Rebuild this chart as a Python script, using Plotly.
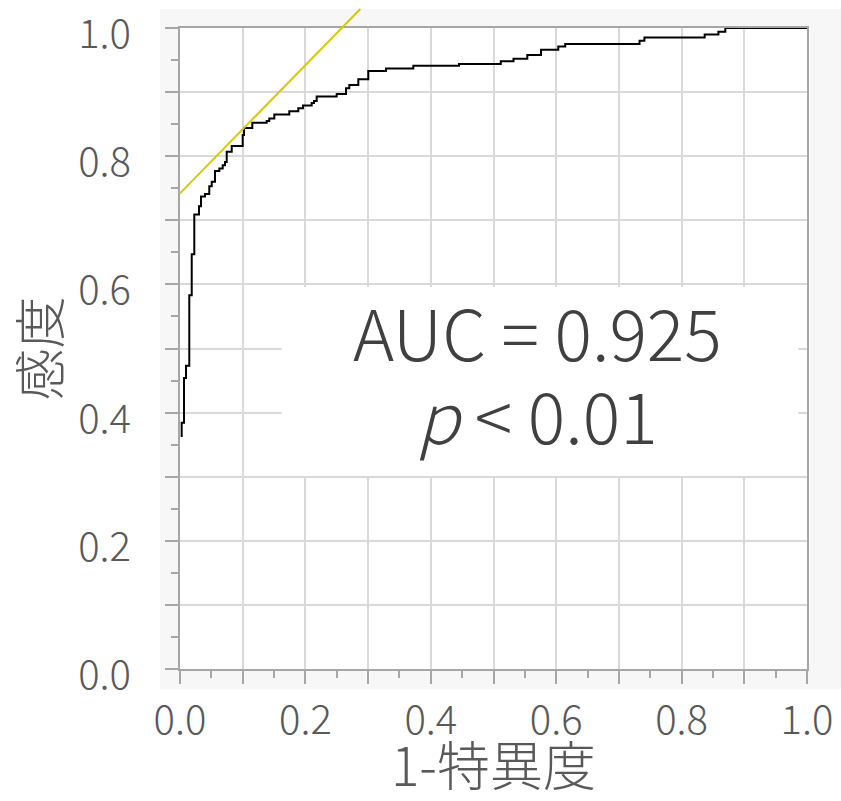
import plotly.graph_objects as go

# ROC curve: false positive rate (1-specificity) and true positive rate (sensitivity)
fpr = [0.0027, 0.0027, 0.0064, 0.0096, 0.0148, 0.0187, 0.0228, 0.0303, 0.0335,
       0.0399, 0.0467, 0.0506, 0.0558, 0.0627, 0.0681, 0.0718, 0.0745, 0.0825,
       0.1000, 0.1021, 0.1153, 0.1383, 0.1424, 0.1504, 0.1743, 0.1887, 0.1962,
       0.2100, 0.2137, 0.2180, 0.2499, 0.2648, 0.2700, 0.2844, 0.3003, 0.3285,
       0.3721, 0.4450, 0.5116, 0.5319, 0.5539, 0.5758, 0.6033, 0.6144, 0.7329,
       0.7407, 0.8368, 0.8587, 0.8697, 1.0000]
tpr = [0.362, 0.384, 0.454, 0.473, 0.583, 0.647, 0.709, 0.722, 0.737,
       0.741, 0.753, 0.760, 0.777, 0.781, 0.786, 0.791, 0.807, 0.816,
       0.833, 0.844, 0.852, 0.855, 0.859, 0.865, 0.870, 0.875, 0.879,
       0.883, 0.886, 0.893, 0.897, 0.906, 0.911, 0.920, 0.933, 0.937,
       0.941, 0.944, 0.948, 0.952, 0.958, 0.966, 0.971, 0.975, 0.980,
       0.985, 0.990, 0.994, 1.000, 1.000]

auc_value = 0.925
p_text = "0.01"

# Youden tangent line: sensitivity = slope * (1-specificity) + intercept
youden_slope = 1.0
youden_intercept = 0.742

tick_vals = [0.0, 0.1, 0.2, 0.3, 0.4, 0.5, 0.6, 0.7, 0.8, 0.9, 1.0]
tick_text = ["0.0", "", "0.2", "", "0.4", "", "0.6", "", "0.8", "", "1.0"]
minor_vals = [0.05, 0.15, 0.25, 0.35, 0.45, 0.55, 0.65, 0.75, 0.85, 0.95]

x_title = "1-特異度"
y_title = "感度"

FONT = "Noto Sans CJK JP"
AXIS_GRAY = "#a6a6a6"
GRID_GRAY = "#d9d9d9"
LABEL_GRAY = "#595959"
TEXT_DARK = "#404040"

fig = go.Figure()

fig.add_trace(go.Scatter(
    x=fpr, y=tpr, mode="lines", line=dict(color="black", width=2, shape="hv"),
    hoverinfo="skip", showlegend=False,
))

# chart-area background and white plotting area
fig.add_shape(type="rect", xref="paper", yref="paper",
              x0=-0.032, x1=1.06, y0=-0.031, y1=1.0296,
              fillcolor="#f7f7f7", line=dict(width=0), layer="below")
fig.add_shape(type="rect", xref="x domain", yref="y domain",
              x0=0, x1=1, y0=0, y1=1,
              fillcolor="white", line=dict(width=0), layer="below")

# white panel behind the statistics text
fig.add_shape(type="rect", xref="x", yref="y",
              x0=0.162, x1=0.986, y0=0.301, y1=0.596,
              fillcolor="white", line=dict(width=0), layer="between")

# tangent line, running up to the top of the chart area
y_top = 1.0296
fig.add_shape(type="line", xref="x domain", yref="y domain",
              x0=0, y0=youden_intercept,
              x1=(y_top - youden_intercept) / youden_slope, y1=y_top,
              line=dict(color="#d6c80a", width=2), layer="above")

stat_font = dict(family=FONT, size=70, color=TEXT_DARK, weight=300)
fig.add_annotation(
    x=0.570, y=0.528, xref="x", yref="y", xanchor="center", yanchor="middle",
    text=f"AUC = {auc_value:.3f}", showarrow=False, font=stat_font,
)
fig.add_annotation(
    x=0.570, y=0.398, xref="x", yref="y", xanchor="center", yanchor="middle",
    text=f"<i>p</i> &lt; {p_text}", showarrow=False, font=stat_font,
)

axis_common = dict(
    range=[0, 1], tickmode="array", tickvals=tick_vals, ticktext=tick_text,
    showgrid=True, gridcolor=GRID_GRAY, gridwidth=1.5,
    showline=True, linecolor=AXIS_GRAY, linewidth=2, mirror=True,
    ticks="outside", ticklen=13, tickwidth=2, tickcolor=AXIS_GRAY,
    minor=dict(tickmode="array", tickvals=minor_vals,
               ticks="outside", ticklen=7, tickwidth=2, tickcolor=AXIS_GRAY, showgrid=False),
    tickfont=dict(family=FONT, size=40, color=LABEL_GRAY, weight=300),
    ticklabeloverflow="allow",
    zeroline=False, fixedrange=True,
)

fig.update_xaxes(**axis_common, ticklabelstandoff=2,
                 title=dict(text=x_title, font=dict(family=FONT, size=53, color=LABEL_GRAY, weight=300),
                            standoff=11))
fig.update_yaxes(**axis_common, ticklabelstandoff=26, ticklabelshift=6,
                 title=dict(text=y_title, font=dict(family=FONT, size=52, color=LABEL_GRAY, weight=300),
                            standoff=18))

fig.update_layout(
    width=841, height=801,
    margin=dict(l=180, r=34, t=28, b=132, autoexpand=False),
    paper_bgcolor="white", plot_bgcolor="white",
    font=dict(family=FONT),
    showlegend=False,
)

fig.write_html("out.html")
